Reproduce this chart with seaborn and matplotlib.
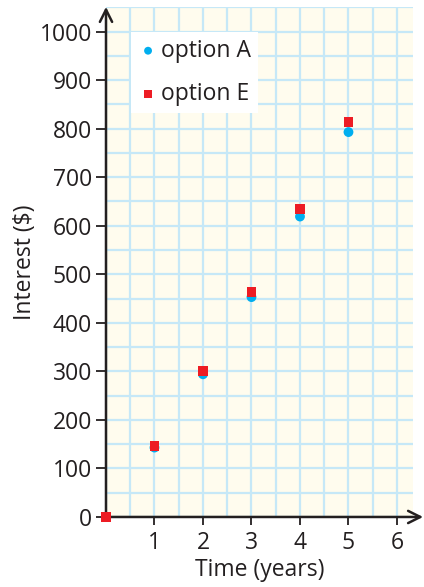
import matplotlib
matplotlib.use("Agg")
import matplotlib.pyplot as plt
import seaborn as sns
import pandas as pd
from matplotlib.ticker import MultipleLocator

# valores
years_a = [1, 2, 3, 4, 5]
interest_a = [143, 294, 453, 619, 793]
years_e = [0, 1, 2, 3, 4, 5]
interest_e = [0, 147, 301, 464, 635, 813]
x_ticks = [1, 2, 3, 4, 5, 6]
y_ticks = [0, 100, 200, 300, 400, 500, 600, 700, 800, 900, 1000]

df_a = pd.DataFrame({"time": years_a, "interest": interest_a})
df_e = pd.DataFrame({"time": years_e, "interest": interest_e})

sns.set_style("white")
plt.rcParams["font.family"] = ["Open Sans", "DejaVu Sans"]

fig = plt.figure(figsize=(4.24, 5.87), dpi=100)
ax = fig.add_axes([0.25, 0.1193, 0.724, 0.869])
ax.set_facecolor("#fffcee")

ax.set_xlim(0, 6.33)
ax.set_ylim(0, 1051)

ax.xaxis.set_minor_locator(MultipleLocator(0.5))
ax.yaxis.set_minor_locator(MultipleLocator(50))
ax.set_xticks(x_ticks)
ax.set_yticks(y_ticks)
ax.grid(which="both", color="#c6e8f7", linewidth=1.6)
ax.set_axisbelow(True)

sns.scatterplot(data=df_a, x="time", y="interest", ax=ax, color="#00aeef",
                marker="o", s=50, edgecolor="none", label="option A",
                clip_on=False, zorder=3)
sns.scatterplot(data=df_e, x="time", y="interest", ax=ax, color="#ed1c24",
                marker="s", s=50, edgecolor="none", label="option E",
                clip_on=False, zorder=4)

for s in ax.spines.values():
    s.set_visible(False)

# ejes con flechas
ax.annotate("", xy=(1.033, 0), xytext=(0, 0), xycoords="axes fraction",
            arrowprops=dict(arrowstyle="->", lw=1.8, color="#231f20",
                            mutation_scale=22, shrinkA=0, shrinkB=0),
            annotation_clip=False, zorder=2)
ax.annotate("", xy=(0, 1.0), xytext=(0, 0), xycoords="axes fraction",
            arrowprops=dict(arrowstyle="->", lw=1.8, color="#231f20",
                            mutation_scale=22, shrinkA=0, shrinkB=0),
            annotation_clip=False, zorder=2)

ax.tick_params(axis="both", which="major", length=7, width=1.3,
               color="#231f20", labelsize=16.5, labelcolor="#231f20", pad=3,
               direction="out")
ax.tick_params(axis="both", which="minor", length=0)
ax.tick_params(axis="x", length=6, pad=4, bottom=True)
ax.tick_params(axis="y", left=True)

ax.set_xlabel("Time (years)", fontsize=16.5, color="#231f20", labelpad=2)
ax.set_ylabel("Interest ($)", fontsize=16.5, color="#231f20", labelpad=2)

leg = ax.legend(loc="upper left", bbox_to_anchor=(0.081, 0.951), frameon=True,
                fancybox=False, framealpha=1, facecolor="white",
                edgecolor="none", fontsize=16.5, handletextpad=0.1,
                markerscale=0.8, labelspacing=0.85, borderpad=0.3,
                handlelength=0.9, borderaxespad=0)
for txt in leg.get_texts():
    txt.set_color("#231f20")

fig.savefig("out.png", dpi=100)
